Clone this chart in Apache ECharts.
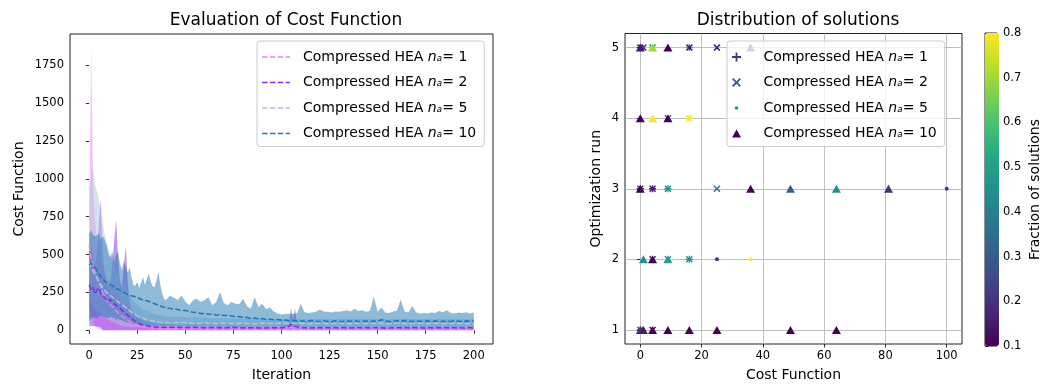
<!DOCTYPE html>
<html><head><meta charset="utf-8">
<script src="https://cdn.jsdelivr.net/npm/echarts@6/dist/echarts.min.js"></script>
<style>html,body{margin:0;padding:0;background:#fff}#c{width:1043px;height:387px}</style>
</head><body><div id="c"></div>
<script>
// ---------- Left chart: iterations ----------
const iterDense = [0,1,2,3,4,5,6,7,8,9,10,11,12,13,14,15,16,17,18,19,20,21,22,23,24,25,26,27,28,29,30,31,32,33,34,35,36,37,38,39,40,
  42,44,46,48,50,52,54,56,58,60,62,64,66,68,70,72,74,76,78,80,82,84,86,88,90,92,94,96,98,100,
  102,104,106,108,110,112,114,116,118,120,122,124,126,128,130,132,134,136,138,140,142,144,146,148,150,
  152,154,156,158,160,162,164,166,168,170,172,174,176,178,180,182,184,186,188,190,192,194,196,198,200];
const iterSparse = [0,1,2,3,4,5,6,7,8,9,10,11,12,13,14,15,16,17,18,19,20,21,22,23,24,25,26,27,28,29,30,31,32,33,34,35,36,37,38,39,40,
  45,50,55,60,65,70,75,80,85,90,95,100,104,105,106,107,108,
  110,115,120,125,130,135,140,145,150,155,160,165,170,175,180,185,190,195,200];

// n_a = 1 (sparse)
const mean1 = [560,470,440,380,385,320,290,245,230,195, 200,170,168,145,140,115,118,95,95,76, 74,58,60,44,44,32,34,25,28,20, 22,16,19,14,16,12,14,11,13,10, 12,
  10,11,9,10,8,9,8,9,7,9,8,8, 8,9,7,9,8, 8,7,8,6,8,7,7,6,8,7,7,6,8,7,7,6,8,7,7];
const upper1 = [700,1860,950,720,600,560,470,430,400,350, 330,300,280,260,240,220,200,180,160,150, 130,115,100,90,80,70,60,55,50,45, 40,38,35,32,30,28,27,26,25,24, 23,
  22,21,20,20,19,19,18,18,18,17,17,17, 17,17,17,17,17, 16,16,16,16,16,16,16,16,16,16,16,16,16,16,16,16,16,16,16];
const lower1 = [150,100,60,30,15,8,4,2,1,0, 0,0,0,0,0,0,0,0,0,0, 0,0,0,0,0,0,0,0,0,0, 0,0,0,0,0,0,0,0,0,0, 0,
  0,0,0,0,0,0,0,0,0,0,0,0, 0,0,0,0,0, 0,0,0,0,0,0,0,0,0,0,0,0,0,0,0,0,0,0,0];
// n_a = 2 (sparse)
const mean2 = [300,270,285,240,265,280,245,250,215,220, 190,205,185,190,165,172,145,150,120,128, 100,102,78,82,60,60,44,48,34,38, 30,32,26,28,23,26,21,24,20,23, 20,
  21,19,20,18,19,17,19,17,18,16,18,17, 25,40,40,25,17, 18,16,18,17,18,16,18,17,18,16,18,17,18,16,18,17,18,16,18];
const upper2 = [520,560,480,430,500,700,866,520,380,320, 280,330,430,600,729,480,320,280,420,556, 330,180,140,120,100,90,80,75,70,65, 60,55,52,50,48,46,44,42,40,40, 38,
  36,34,33,32,31,30,30,30,29,29,29,30, 40,150,60,150,40, 28,28,28,28,28,28,28,28,28,28,28,28,28,28,28,28,28,28,28];
const lower2 = [30,28,27,26,25,25,20,0,0,0, 0,0,0,0,0,0,0,0,0,0, 0,0,0,0,0,0,0,0,0,0, 0,0,0,0,0,0,0,0,0,0, 0,
  0,0,0,0,0,0,0,0,0,0,0,0, 0,0,0,0,0, 0,0,0,0,0,0,0,0,0,0,0,0,0,0,0,0,0,0,0];
// n_a = 5 (sparse)
const mean5 = [450,410,405,370,365,320,315,280,275,250, 255,230,235,210,215,190,195,170,175,150, 155,130,135,110,115,95,100,85,90,75, 80,68,74,64,68,58,63,54,59,52, 56,
  50,52,47,50,46,49,45,48,44,48,45,47, 46,45,47,45,46, 47,44,47,44,47,44,47,44,47,44,47,44,47,44,47,44,47,44,47];
const upper5 = [950,1000,1080,960,920,860,780,720,640,580, 540,500,460,430,400,370,340,310,290,270, 250,230,210,195,180,170,160,150,140,135, 130,125,120,115,110,105,100,98,96,94, 92,
  90,88,85,82,80,80,78,78,76,76,75,75, 75,75,75,75,75, 75,75,75,75,75,75,75,75,75,75,75,75,75,75,75,75,75,75,75];
const lower5 = [200,180,160,140,130,120,110,100,90,80, 70,60,55,50,45,40,35,30,28,26, 24,22,20,20,20,20,20,20,20,20, 20,20,20,20,20,20,20,20,20,20, 20,
  18,18,18,18,18,18,18,18,18,18,18,18, 18,18,18,18,18, 18,18,18,18,18,18,18,18,18,18,18,18,18,18,18,18,18,18,18];
// n_a = 10 (dense)
const mean10 = [430,445,436,415,405,370,355,345,325,322, 305,312,295,292,276,280,265,263,250,248, 236,240,228,232,222,226,210,214,200,205, 195,198,186,190,176,180,166,170,156,158, 150,
  145,140,138,130,132,124,120,118,111,112, 106,108,100,104,98,100,94,92,90,86, 85,80,82,76,78,72,74,70,72,66, 68,64,66,62,64,60,62,65,60,58,
  62,60,57,63,60,58,62,60,64,58, 60,62,59,61,60,70,62,58,60,63, 61,65,60,58,62,60,59,61,60,62, 58,60,61,59,62,60,58,61,60,62];
const upper10 = [640,660,630,620,625,640,600,620,600,560, 500,480,520,450,500,523,440,400,460,420, 380,415,350,300,295,320,280,315,350,300, 340,371,320,290,285,330,382,300,241,206, 200,
  230,215,200,230,190,165,200,209,187,200, 219,165,187,252,180,165,187,175,172,209, 160,143,219,154,176,140,150,125,111,105, 108,110,110,112,176,120,115,118,122,137,
  125,122,118,125,122,128,133,125,143,128, 133,122,130,224,122,150,118,115,125,130, 204,125,118,161,120,111,115,112,118,115, 128,120,133,115,112,118,115,120,112,118];
const lower10 = [60,80,90,85,80,90,100,95,90,85, 80,90,85,80,70,75,70,65,60,55, 50,48,45,42,40,40,38,36,35,34, 33,32,32,31,30,30,30,29,29,28, 28,
  28,27,27,26,27,26,26,25,26,25, 25,26,25,24,25,25,24,25,24,25, 24,25,24,25,24,24,25,24,25,24, 25,24,24,25,24,25,24,24,25,24,
  24,25,24,24,25,24,24,25,24,24, 25,24,24,25,24,24,25,24,24,25, 24,24,25,24,24,25,24,24,25,24, 24,25,24,24,25,24,24,25,24,24];

const leftXTicks = [0,25,50,75,100,125,150,175,200];
const leftYTicks = [0,250,500,750,1000,1250,1500,1750];

// ---------- Right chart: [cost, run, fraction] ----------
const pts1 = [[0,5,0.15],[16,5,0.45],[16,4,0.8],[0,3,0.2],[4,3,0.15],[9,3,0.5],[16,2,0.5],[0,1,0.25]];
const pts2 = [[0,5,0.15],[1,5,0.2],[4,5,0.45],[16,5,0.15],[25,5,0.15],[9,4,0.3],[16,4,0.8],[0,3,0.2],[4,3,0.15],[9,3,0.45],[25,3,0.35],[4,2,0.15],[9,2,0.45],[16,2,0.45],[0,1,0.3],[4,1,0.15]];
const pts5 = [[4,5,0.5],[100,3,0.2],[25,2,0.2],[36,2,0.8],[1,1,0.6]];
const pts10 = [[0,5,0.15],[4,5,0.7],[9,5,0.1],[36,5,0.1],[0,4,0.1],[4,4,0.8],[9,4,0.1],[0,3,0.1],[36,3,0.1],[49,3,0.3],[64,3,0.45],[81,3,0.2],[1,2,0.45],[4,2,0.1],[9,2,0.5],[0,1,0.2],[1,1,0.15],[4,1,0.1],[9,1,0.1],[16,1,0.1],[25,1,0.1],[49,1,0.1],[64,1,0.1]];
const rightXTicks = [0,20,40,60,80,100];
const rightYTicks = [1,2,3,4,5];

const viridis = ['#440154','#482475','#414487','#355f8d','#2a788e','#21918c','#22a884','#44bf70','#7ad151','#bddf26','#fde725'];
const FONT = 'DejaVu Sans';
const PLUS = 'path://M4,0 H6 V4 H10 V6 H6 V10 H4 V6 H0 V4 H4 Z';
const CROSS = 'path://M1.5,0 L5,3.5 L8.5,0 L10,1.5 L6.5,5 L10,8.5 L8.5,10 L5,6.5 L1.5,10 L0,8.5 L3.5,5 L0,1.5 Z';
const TRI = 'path://M5,0 L10,9 L0,9 Z';
const SMALLDOT = 'path://M0,0 M10,10 M3,5 A2,2 0 1 1 7,5 A2,2 0 1 1 3,5 Z';
const TRI_ICON = 'path://M0,0 M10,10 M5,0.5 L10,9.5 L0,9.5 Z';
const DASH_ICON = 'path://M0,0 M28,14 M0,6.25 H5.5 V7.75 H0 Z M7.9,6.25 H13.4 V7.75 H7.9 Z M15.8,6.25 H21.3 V7.75 H15.8 Z M23.7,6.25 H28 V7.75 H23.7 Z';

const lineColors = ['#ee82ee','#8a2be2','#b0c4de','#1f77b4'];

function band(xs, lo, hi, color) {
  const data = xs.map((x, i) => [x, lo[i], hi[i]]);
  return {
    type: 'custom', xAxisIndex: 0, yAxisIndex: 0, data: data, silent: true,
    encode: {x: 0, y: [1, 2]},
    renderItem: function (params, api) {
      if (params.dataIndex !== 0) return null;
      const top = data.map(d => api.coord([d[0], d[2]]));
      const bot = data.map(d => api.coord([d[0], d[1]])).reverse();
      return {type: 'polygon', shape: {points: top.concat(bot)}, style: {fill: color, opacity: 0.5}};
    }
  };
}
function meanLine(name, xs, ys, color) {
  return {
    type: 'line', name: name, xAxisIndex: 0, yAxisIndex: 0, silent: true,
    data: xs.map((x, i) => [x, ys[i]]), symbol: 'none', showSymbol: false,
    lineStyle: {color: color, width: 1.5, type: [5.5, 2.4]}, itemStyle: {color: color}
  };
}
function scatter(name, pts, symbol, size, color) {
  return {
    type: 'scatter', name: name, xAxisIndex: 1, yAxisIndex: 1, data: pts,
    symbol: symbol, symbolSize: size, itemStyle: {color: color, opacity: 1}, silent: true
  };
}

const series = [
  band(iterSparse, lower1, upper1, lineColors[0]), meanLine('L1', iterSparse, mean1, lineColors[0]),
  band(iterSparse, lower2, upper2, lineColors[1]), meanLine('L2', iterSparse, mean2, lineColors[1]),
  band(iterSparse, lower5, upper5, lineColors[2]), meanLine('L5', iterSparse, mean5, lineColors[2]),
  band(iterDense, lower10, upper10, lineColors[3]), meanLine('L10', iterDense, mean10, lineColors[3]),
  scatter('S1', pts1, PLUS, 7, '#46327e'),
  scatter('S2', pts2, CROSS, 7, '#365c8d'),
  scatter('S5', pts5, 'circle', 4, '#21918c'),
  scatter('S10', pts10, TRI, [9, 8], '#440154')
];

const rich = {
  t: {fontSize: 14, fontFamily: FONT, color: '#000'},
  i: {fontSize: 14, fontFamily: FONT, color: '#000', fontStyle: 'italic'}
};
function fmt(name) {
  const n = name.replace(/^[LS]/, '');
  return '{t|Compressed HEA }{i|nₐ}{t|= ' + n + '}';
}
const tickStyle = {show: true, inside: false, length: 3.5, lineStyle: {color: '#000', width: 0.8}};
const labelStyle = {color: '#000', fontSize: 11.5, fontFamily: FONT, formatter: v => String(v)};
const nameStyle = {color: '#000', fontSize: 14, fontFamily: FONT};
const legendBase = {
  orient: 'vertical', top: 41, itemGap: 7.5, padding: [7, 8, 4, 5],
  backgroundColor: 'rgba(255,255,255,0.8)', borderColor: '#cccccc', borderWidth: 1, borderRadius: 3,
  formatter: fmt, textStyle: {rich: rich, padding: [0, 0, 0, 8], lineHeight: 18}, selectedMode: false
};

const option = {
  animation: false,
  backgroundColor: '#fff',
  textStyle: {fontFamily: FONT},
  title: [
    {text: 'Evaluation of Cost Function', left: 281, top: 7, textAlign: 'center', textStyle: {fontSize: 17, fontWeight: 'normal', color: '#000', fontFamily: FONT}},
    {text: 'Distribution of solutions', left: 793, top: 7, textAlign: 'center', textStyle: {fontSize: 17, fontWeight: 'normal', color: '#000', fontFamily: FONT}}
  ],
  grid: [
    {left: 70, top: 34, width: 423, height: 313, show: true, borderColor: '#222', borderWidth: 1, backgroundColor: 'transparent'},
    {left: 625, top: 33.5, width: 337, height: 313, show: true, borderColor: '#222', borderWidth: 1, backgroundColor: 'transparent'},
    {left: 985, top: 33, width: 14, height: 313, show: true, borderColor: '#222', borderWidth: 1, backgroundColor: 'transparent'}
  ],
  xAxis: [
    {gridIndex: 0, type: 'value', min: -10, max: 210, axisLine: {show: false},
     axisTick: Object.assign({customValues: leftXTicks}, tickStyle),
     axisLabel: Object.assign({customValues: leftXTicks, margin: 6}, labelStyle),
     splitLine: {show: false},
     name: 'Iteration', nameLocation: 'middle', nameGap: 24, nameTextStyle: nameStyle},
    {gridIndex: 1, type: 'value', min: -5, max: 105, axisLine: {show: false},
     axisTick: Object.assign({customValues: rightXTicks}, tickStyle),
     axisLabel: Object.assign({customValues: rightXTicks, margin: 6}, labelStyle),
     splitLine: {show: true, lineStyle: {color: '#b0b0b0', width: 0.8}},
     name: 'Cost Function', nameLocation: 'middle', nameGap: 24, nameTextStyle: nameStyle},
    {gridIndex: 2, type: 'value', show: false, min: 0, max: 1}
  ],
  yAxis: [
    {gridIndex: 0, type: 'value', min: -90, max: 1955, axisLine: {show: false},
     axisTick: Object.assign({customValues: leftYTicks}, tickStyle),
     axisLabel: Object.assign({customValues: leftYTicks, margin: 6}, labelStyle),
     splitLine: {show: false},
     name: 'Cost Function', nameLocation: 'middle', nameGap: 44, nameTextStyle: nameStyle},
    {gridIndex: 1, type: 'value', min: 0.8, max: 5.2, axisLine: {show: false},
     axisTick: Object.assign({customValues: rightYTicks}, tickStyle),
     axisLabel: Object.assign({customValues: rightYTicks, margin: 6}, labelStyle),
     splitLine: {show: true, lineStyle: {color: '#b0b0b0', width: 0.8}},
     name: 'Optimization run', nameLocation: 'middle', nameGap: 22, nameTextStyle: nameStyle},
    {gridIndex: 2, type: 'value', position: 'right', min: 0.1, max: 0.8, interval: 0.1, axisLine: {show: false},
     axisTick: tickStyle,
     axisLabel: Object.assign({}, labelStyle, {margin: 6, formatter: v => v.toFixed(1)}),
     splitLine: {show: false},
     name: 'Fraction of solutions', nameLocation: 'middle', nameGap: 31, nameRotate: 90, nameTextStyle: nameStyle}
  ],
  visualMap: {
    type: 'continuous', min: 0.1, max: 0.8, dimension: 2, seriesIndex: [8, 9, 10, 11],
    inRange: {color: viridis}, calculable: false, realtime: false, hoverLink: false,
    left: 985, top: 33, itemWidth: 14, itemHeight: 313, padding: 0, text: null, showLabel: false,
    orient: 'vertical'
  },
  legend: [
    Object.assign({}, legendBase, {
      left: 257, itemWidth: 28, itemHeight: 14,
      data: ['L1', 'L2', 'L5', 'L10'].map(n => ({name: n, icon: DASH_ICON}))}),
    Object.assign({}, legendBase, {
      left: 727, itemWidth: 28, itemHeight: 9,
      data: [{name: 'S1', icon: PLUS}, {name: 'S2', icon: CROSS}, {name: 'S5', icon: SMALLDOT}, {name: 'S10', icon: TRI_ICON}]})
  ],
  series: series
};
const chart = echarts.init(document.getElementById('c'), null, {renderer: 'canvas'});
chart.setOption(option);
</script></body></html>
